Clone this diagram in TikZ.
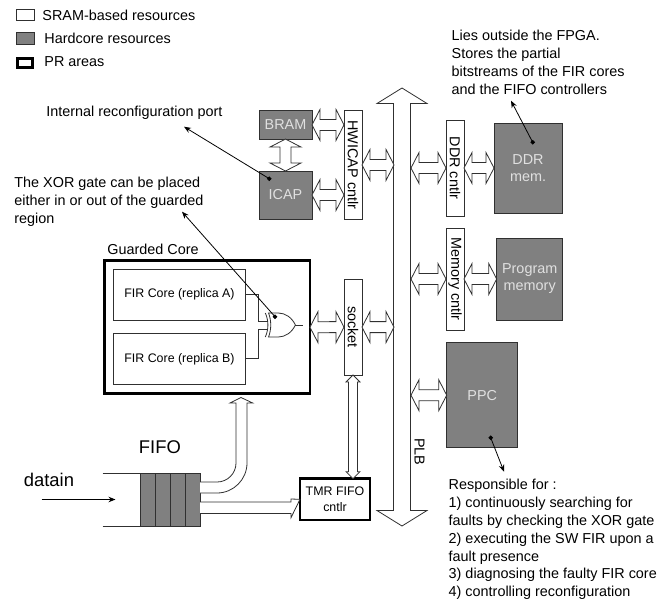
\documentclass[tikz,border=0pt]{standalone}
\usepackage{fontspec}
\usepackage{xcolor}
\usepackage{tikz}
\usetikzlibrary{arrows.meta,calc,shapes.gates.logic.US}
\setmainfont{Liberation Sans}
\definecolor{hardgray}{HTML}{808080}
\definecolor{edgegray}{HTML}{303030}

\begin{document}
\begin{tikzpicture}[x=1pt,y=-1pt,line width=0.8pt,
  txt/.style={font=\fontsize{14.4}{17.8}\selectfont,inner sep=0pt,align=left,anchor=west},
  softbox/.style={draw=edgegray,fill=white,inner sep=0pt,outer sep=0pt,font=\fontsize{14.4}{17}\selectfont,align=center},
  hardbox/.style={softbox,fill=hardgray,text=white!88!black},
  prbox/.style={softbox,draw=black,line width=2.6pt},
  firbox/.style={softbox,font=\fontsize{12.4}{15}\selectfont},
  bus/.style n args={3}{draw=edgegray,fill=white,to path={
    -- ($(\tikztostart)!#1!(\tikztotarget)!#2!90:(\tikztotarget)$)
    -- ($(\tikztostart)!#1!(\tikztotarget)!#3!90:(\tikztotarget)$)
    -- ($(\tikztotarget)!#1!(\tikztostart)!#3!-90:(\tikztostart)$)
    -- ($(\tikztotarget)!#1!(\tikztostart)!#2!-90:(\tikztostart)$)
    -- (\tikztotarget)
    -- ($(\tikztotarget)!#1!(\tikztostart)!#2!90:(\tikztostart)$)
    -- ($(\tikztotarget)!#1!(\tikztostart)!#3!90:(\tikztostart)$)
    -- ($(\tikztostart)!#1!(\tikztotarget)!#3!-90:(\tikztotarget)$)
    -- ($(\tikztostart)!#1!(\tikztotarget)!#2!-90:(\tikztotarget)$)
    -- cycle}},
  smallbus/.style={bus={8pt}{15.5pt}{5.5pt}},
  note/.style={draw=black,-{Stealth[length=7pt,width=5.5pt]}}]
\useasboundingbox (0,0) rectangle (672,603);

% legend
\node[softbox,minimum width=18,minimum height=11.7] (sramkey) at (25,15) {};
\node[txt] (sramtxt) at (42,15) {SRAM-based resources};
\node[hardbox,minimum width=18,minimum height=11.3] (hardkey) at (25,38.4) {};
\node[txt] (hardtxt) at (44,38.7) {Hardcore resources};
\node[prbox,minimum width=15,minimum height=9.5] (prkey) at (25,63) {};
\node[txt] (prtxt) at (44,61.7) {PR areas};

% PLB
\coordinate (plbtop) at (402,88);
\coordinate (plbbot) at (402,526);
\coordinate (plbw) at (394,0);
\coordinate (plbe) at (411,0);
\draw[bus={15.5pt}{25pt}{8.5pt}] (plbtop) to (plbbot);
\node[softbox,draw=none,fill=none,rotate=-90] (plbtxt) at (419.5,451.7) {PLB};

% reconfiguration side
\node[hardbox,minimum width=53,minimum height=28.3] (bram) at (285.5,124.9) {BRAM};
\node[hardbox,minimum width=53,minimum height=48] (icap) at (285.5,195) {ICAP};
\node[softbox,rotate=-90,minimum width=108.3,minimum height=18] (hwicap) at (353,164.9) {HWICAP cntlr};
\draw[smallbus] (bram.east) to (hwicap.south |- bram.east);
\draw[smallbus] (icap.east) to (hwicap.south |- icap.east);
\draw[smallbus] (bram.south) to (icap.north);
\draw[smallbus] (hwicap.north) to (plbw |- hwicap.north);

% memories
\node[softbox,rotate=-90,minimum width=96,minimum height=18] (ddrcntlr) at (455,168) {DDR cntlr};
\node[hardbox,minimum width=68,minimum height=90] (ddrmem) at (528,168) {DDR\\mem.};
\node[softbox,rotate=-90,minimum width=102,minimum height=18] (memcntlr) at (455,279) {Memory cntlr};
\node[hardbox,minimum width=66,minimum height=82] (progmem) at (529.7,279) {Program\\memory};
\node[hardbox,minimum width=71,minimum height=105] (ppc) at (482.2,395.2) {PPC};
\draw[smallbus] (plbe |- ddrcntlr.south) to (ddrcntlr.south);
\draw[smallbus] (ddrcntlr.north) to (ddrmem.west);
\draw[smallbus] (plbe |- memcntlr.south) to (memcntlr.south);
\draw[smallbus] (memcntlr.north) to (progmem.west);
\draw[smallbus] (plbe |- ppc.west) to (ppc.west);

% guarded core
\node[txt] (coretxt) at (107,249.3) {Guarded Core};
\node[prbox,minimum width=205.3,minimum height=133] (core) at (207.3,327.2) {};
\node[firbox,minimum width=132.4,minimum height=51] (fira) at (179.5,294.5) {FIR Core (replica A)};
\node[firbox,minimum width=132.4,minimum height=51] (firb) at (179.5,358.8) {FIR Core (replica B)};
\node[xor gate US,draw=edgegray,logic gate inputs=nn,inner sep=0pt,outer sep=0pt,minimum width=30,minimum height=24,xscale=0.82] (xorgate) at (280,325) {};
\coordinate (xorend) at (303,325);
\draw[edgegray] (fira.east) -- ++(12.6,0) |- (xorgate.input 1);
\draw[edgegray] (firb.east) -- ++(12.6,0) |- (xorgate.input 2);
\draw[edgegray] (xorgate.output) -- (xorend);

% socket
\node[softbox,rotate=-90,minimum width=95.7,minimum height=18] (socket) at (353,327.1) {socket};
\node[prbox,minimum width=70,minimum height=41.3,font=\fontsize{12.4}{16}\selectfont] (tmr) at (335,499.3) {TMR FIFO\\cntlr};
\draw[smallbus] (core.east) to (socket.south);
\draw[smallbus] (socket.north) to (plbw |- socket.north);
\draw[bus={7pt}{7pt}{4.5pt}] (socket.east) to (socket.east |- tmr.north);

% FIFO
\node[hardbox,minimum width=59.3,minimum height=53] (fifo) at (170.3,499.7) {};
\foreach \x in {155.7,170.7,185}
  \draw[edgegray] (\x,473.2) -- (\x,526.2);
\coordinate (railtop) at (102.7,473.2);
\coordinate (railbot) at (102.7,526.2);
\draw[edgegray] (railtop) -- (fifo.north west);
\draw[edgegray] (railbot) -- (fifo.south west);
\node[txt,font=\fontsize{18.4}{20}\selectfont] (fifotxt) at (138.5,447) {FIFO};
\node[txt,font=\fontsize{18.4}{20}\selectfont] (datain) at (23.5,480) {datain};
\coordinate (dataa) at (41.7,499.5);
\coordinate (datab) at (115.5,499.5);
\draw[note] (dataa) -- (datab);
\draw[draw=edgegray,fill=white] (200,482) -- (217,482) .. controls (227.5,482) and (236,473.5) .. (236,463)
  -- (236,403) -- (230,403) -- (241,397.5) -- (252.7,403) -- (247,403) -- (247,463)
  .. controls (247,479.5) and (233.5,493) .. (217,493) -- (200,493);
\draw[draw=edgegray,fill=white] (200,502) -- (291,502) -- (291,499) -- (tmr.west) -- (291,517.7) -- (291,513.5) -- (200,513.5);

% notes
\node[txt] (icaptxt) at (46,113) {Internal reconfiguration port};
\node[txt] (xortxt) at (14,201.7) {The XOR gate can be placed\\either in or out of the guarded\\region};
\node[txt] (ddrtxt) at (451.3,62.5) {Lies outside the FPGA.\\Stores the partial\\bitstreams of the FIR cores\\and the FIFO controllers};
\node[txt] (ppctxt) at (448.3,539.6) {Responsible for :\\1) continuously searching for\\faults by checking the XOR gate\\2) executing the SW FIR upon a\\fault presence\\3) diagnosing the faulty FIR core\\4) controlling reconfiguration};
\coordinate (icapdot) at (269.3,178.7);
\coordinate (icaptip) at (184,126.7);
\coordinate (xordot) at (275,316.7);
\coordinate (xortip) at (182,211.7);
\coordinate (ddrdot) at (532.7,142.3);
\coordinate (ddrtip) at (511,100.7);
\coordinate (ppcdot) at (490.7,437.7);
\coordinate (ppctip) at (504,471.7);
\draw[note] (icapdot) -- (icaptip);
\draw[note] (xordot) -- (xortip);
\draw[note] (ddrdot) -- (ddrtip);
\draw[note] (ppcdot) -- (ppctip);
\foreach \d in {icapdot,xordot,ddrdot,ppcdot}
  \filldraw[black] (\d) circle (1.8pt);
\end{tikzpicture}
\end{document}
